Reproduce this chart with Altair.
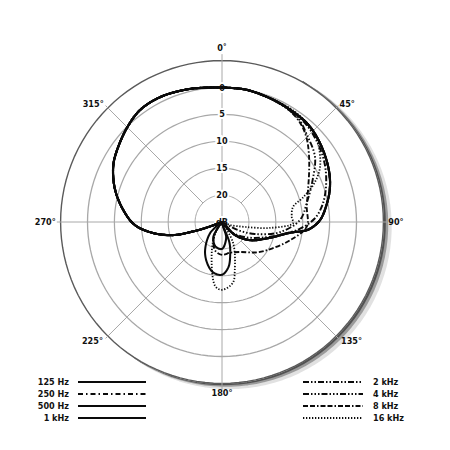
import altair as alt
import pandas as pd
import numpy as np

# ---------------- data ----------------
SERIES = ["125 Hz", "250 Hz", "500 Hz", "1 kHz", "2 kHz", "4 kHz", "8 kHz", "16 kHz"]

# attenuation in dB (0 = on-axis level, 25 = centre of the plot), angle in degrees clockwise from 0°
TOP_ANG = [0, 10, 20]
TOP_DB = [0.0, 0.0, 0.3]

LEFT_ANG = [245, 250, 252, 255, 261, 268, 277, 287, 297, 304, 315, 324, 334, 345, 352, 360]
LEFT_DB = [25.0, 22.0, 19.3, 15.6, 12.0, 8.8, 6.5, 4.2, 2.3, 1.4, 0.1, -0.8, -0.9, -0.5, -0.2, 0.0]

LOW_ANG = [28, 41, 51, 63, 72, 80, 89, 95, 99, 110, 123, 135, 150]
LOW_DB = [0.5, 0.8, 1.6, 2.8, 3.9, 5.2, 6.8, 8.9, 12.2, 16.1, 18.8, 21.6, 25.0]

ANG_125 = LOW_ANG + [180, 220]
DB_125 = LOW_DB + [25.0, 25.0]

ANG_250 = LOW_ANG + [180, 220]
DB_250 = LOW_DB + [25.0, 25.0]

ANG_500 = LOW_ANG + [165, 180, 195, 210, 228]
DB_500 = LOW_DB + [22.0, 20.0, 20.3, 21.8, 25.0]

ANG_1K = LOW_ANG + [160, 166, 172, 180, 190, 200, 211, 227, 240]
DB_1K = LOW_DB + [21.0, 18.7, 16.5, 15.2, 15.5, 16.9, 18.9, 22.0, 25.0]

ANG_2K = [30, 40, 50, 60, 70, 80, 88, 95, 102, 112, 124, 138, 150, 200, 240]
DB_2K = [0.6, 1.0, 1.9, 3.0, 4.4, 6.0, 7.8, 10.5, 13.8, 17.2, 20.0, 22.5, 25.0, 25.0, 25.0]

ANG_4K = [35.5, 45, 55, 65, 77, 88.5, 100, 110, 117, 130, 200, 240]
DB_4K = [1.0, 2.5, 3.9, 6.4, 8.8, 10.5, 14.1, 18.5, 21.7, 25.0, 25.0, 25.0]

ANG_8K = [30, 38, 45, 52, 60, 70, 80, 93, 105, 118, 131, 149, 165, 180, 194, 210, 225, 240]
DB_8K = [0.7, 1.5, 2.8, 4.5, 6.3, 8.0, 9.0, 9.2, 11.9, 14.5, 16.4, 18.5, 19.1, 18.9, 19.6, 22.0, 25.0, 25.0]

ANG_16K = [32, 43, 50.5, 60.7, 67, 73, 78, 86, 91, 97, 102, 110, 125, 140, 152, 165, 170, 180, 186, 200, 211, 230]
DB_16K = [0.4, 0.9, 1.9, 4.1, 6.3, 9.2, 11.5, 12.0, 11.8, 16.0, 20.6, 23.4, 25.0, 25.0, 20.6, 15.8, 13.5, 12.4, 13.0, 19.5, 22.8, 25.0]

RING_DB = [-5, 0, 5, 10, 15, 20]
RING_LABELS = ["0", "5", "10", "15", "20"]
ANGLE_TICKS = [0, 45, 90, 135, 180, 225, 270, 315]

# ---------------- styling / layout ----------------
K = 5.38          # pixels per dB
FLOOR = 25        # dB at the centre
FONT = "Liberation Sans Narrow, DejaVu Sans Condensed, DejaVu Sans, sans-serif"
GRID = "#a8a8a8"

DASHES = {
    "125 Hz": [1, 0],
    "250 Hz": [5, 3, 1.5, 3],
    "500 Hz": [1, 0],
    "1 kHz": [1, 0],
    "2 kHz": [6, 2, 1.5, 2, 1.5, 2],
    "4 kHz": [6, 2, 1.5, 2, 1.5, 2, 1.5, 2],
    "8 kHz": [5, 2, 5, 2, 1.5, 2],
    "16 kHz": [1.3, 1.7],
}
WIDTHS = {"125 Hz": 2.2, "250 Hz": 1.8, "500 Hz": 2.2, "1 kHz": 2.2,
          "2 kHz": 1.8, "4 kHz": 1.7, "8 kHz": 1.8, "16 kHz": 1.7}

series_data = [(ANG_125, DB_125), (ANG_250, DB_250), (ANG_500, DB_500), (ANG_1K, DB_1K),
               (ANG_2K, DB_2K), (ANG_4K, DB_4K), (ANG_8K, DB_8K), (ANG_16K, DB_16K)]

rows = []
for name, (angs, dbs) in zip(SERIES, series_data):
    fa = TOP_ANG + angs + LEFT_ANG
    fd = TOP_DB + dbs + LEFT_DB
    for i, (a, d) in enumerate(zip(fa, fd)):
        rows.append({"series": name, "i": i, "ang": a, "db": d})
curves = pd.DataFrame(rows)

ring_angles = np.arange(0, 361, 3)
rings = pd.DataFrame([{"db": lv, "ang": float(a)} for lv in RING_DB for a in ring_angles])
shadow = pd.DataFrame({"ang": np.arange(30, 216, 3).astype(float)})

spokes = pd.DataFrame({
    "ang": ANGLE_TICKS,
    "db0": [FLOOR if a % 90 == 0 else 20 for a in ANGLE_TICKS],
    "db1": [-6.2 if a in (0, 180) else (-5.7 if a % 90 == 0 else -5.6) for a in ANGLE_TICKS],
})

ring_lab = pd.DataFrame({"db": [0, 5, 10, 15, 20, FLOOR], "ang": [0] * 6,
                         "label": RING_LABELS + ["dB"]})

ang_lab = pd.DataFrame({
    "ang": ANGLE_TICKS,
    "label": ["0˚"] + [f"{a}°" for a in ANGLE_TICKS[1:]],
    "db": [-7.3, -5.9, -5.9, -6.3, -6.8, -6.3, -5.9, -6.1],
    "side": ["c", "l", "l", "l", "c", "r", "r", "r"],
})

legend = pd.DataFrame({"series": SERIES,
                       "col": [0, 0, 0, 0, 1, 1, 1, 1],
                       "row": [0, 1, 2, 3, 0, 1, 2, 3]})

# ---------------- chart ----------------
XS = alt.Scale(domain=[-214, 220], nice=False, zero=False)
YS = alt.Scale(domain=[-220, 214], nice=False, zero=False)
X = alt.X("x:Q", scale=XS, axis=None)
Y = alt.Y("y:Q", scale=YS, axis=None)


def polar(ch):
    return ch.transform_calculate(
        r=f"({FLOOR} - datum.db) * {K}"
    ).transform_calculate(
        x="datum.r * sin(datum.ang * PI / 180)",
        y="datum.r * cos(datum.ang * PI / 180)",
    )


def shadow_trail(scale_w, color, opacity):
    r_out = (FLOOR + 5) * K
    return alt.Chart(shadow).transform_calculate(
        w=f"{scale_w} * max(0, sin(PI * (datum.ang - 30) / 185))"
    ).transform_calculate(
        r=f"{r_out} + 0.6 + datum.w / 2"
    ).transform_calculate(
        x="datum.r * sin(datum.ang * PI / 180)",
        y="datum.r * cos(datum.ang * PI / 180)",
    ).mark_trail(color=color, opacity=opacity).encode(
        x=X, y=Y, order="ang:Q", size=alt.Size("w:Q", scale=None, legend=None)
    )


ring_layer = polar(alt.Chart(rings)).mark_line().encode(
    x=X, y=Y, detail="db:N", order="ang:Q",
    color=alt.Color("db:N", scale=alt.Scale(domain=RING_DB, range=["#5a5a5a"] + [GRID] * 5), legend=None),
    strokeWidth=alt.StrokeWidth("db:N", scale=alt.Scale(domain=RING_DB, range=[1.4] + [1.0] * 5), legend=None),
)

spoke_layer = alt.Chart(spokes).transform_calculate(
    r0=f"({FLOOR} - datum.db0) * {K}", r1=f"({FLOOR} - datum.db1) * {K}"
).transform_calculate(
    x="datum.r0 * sin(datum.ang * PI / 180)", y="datum.r0 * cos(datum.ang * PI / 180)",
    x2="datum.r1 * sin(datum.ang * PI / 180)", y2="datum.r1 * cos(datum.ang * PI / 180)",
).mark_rule(color=GRID, strokeWidth=1).encode(x=X, y=Y, x2="x2:Q", y2="y2:Q")

ring_halo = polar(alt.Chart(ring_lab)).mark_text(
    font=FONT, fontSize=9, fontWeight="bold", stroke="white", strokeWidth=4, color="white"
).encode(x=X, y=Y, text="label:N")
ring_text = polar(alt.Chart(ring_lab)).mark_text(
    font=FONT, fontSize=9, fontWeight="bold", color="#111"
).encode(x=X, y=Y, text="label:N")

ang_layers = []
for side, align in (("c", "center"), ("l", "left"), ("r", "right")):
    ang_layers.append(
        polar(alt.Chart(ang_lab).transform_filter(f"datum.side == '{side}'")).mark_text(
            font=FONT, fontSize=9, fontWeight="bold", color="#111", align=align, baseline="middle"
        ).encode(x=X, y=Y, text="label:N")
    )

dash_scale = alt.Scale(domain=SERIES, range=[DASHES[s] for s in SERIES])
width_scale = alt.Scale(domain=SERIES, range=[WIDTHS[s] for s in SERIES])

curve_layers = []
for group in (["16 kHz", "8 kHz", "4 kHz", "2 kHz", "250 Hz"], ["125 Hz", "500 Hz", "1 kHz"]):
    sub = curves[curves["series"].isin(group)]
    curve_layers.append(
        polar(alt.Chart(sub)).mark_line(color="#0a0a0a", interpolate="catmull-rom",
                                         strokeCap="butt", strokeJoin="round").encode(
            x=X, y=Y, order="i:Q", detail="series:N",
            strokeDash=alt.StrokeDash("series:N", scale=dash_scale, legend=None),
            strokeWidth=alt.StrokeWidth("series:N", scale=width_scale, legend=None),
        )
    )

LEG_Y0, LEG_DY = -160, 12
leg_lines = alt.Chart(legend).transform_calculate(
    y=f"{LEG_Y0} - datum.row * {LEG_DY}",
    x="datum.col == 0 ? -144 : 81",
    x2="datum.col == 0 ? -76 : 141",
).mark_rule(color="#0a0a0a", strokeCap="butt").encode(
    x=X, y=Y, x2="x2:Q",
    strokeDash=alt.StrokeDash("series:N", scale=dash_scale, legend=None),
    strokeWidth=alt.StrokeWidth("series:N", scale=width_scale, legend=None),
)
leg_text_l = alt.Chart(legend).transform_filter("datum.col == 0").transform_calculate(
    y=f"{LEG_Y0} - datum.row * {LEG_DY}", x="-153"
).mark_text(font=FONT, fontSize=9, fontWeight="bold", color="#111", align="right", baseline="middle").encode(
    x=X, y=Y, text="series:N")
leg_text_r = alt.Chart(legend).transform_filter("datum.col == 1").transform_calculate(
    y=f"{LEG_Y0} - datum.row * {LEG_DY}", x="151"
).mark_text(font=FONT, fontSize=9, fontWeight="bold", color="#111", align="left", baseline="middle").encode(
    x=X, y=Y, text="series:N")

chart = alt.layer(
    shadow_trail(9, "#888888", 0.25), shadow_trail(5, "#444444", 0.45), shadow_trail(2.2, "#222222", 0.6),
    ring_layer, spoke_layer, ring_halo,
    *curve_layers,
    ring_text, *ang_layers,
    leg_lines, leg_text_l, leg_text_r,
).resolve_scale(
    color="independent", strokeWidth="independent", strokeDash="independent"
).properties(
    width=434, height=434, padding=0
).configure_view(strokeWidth=0)

chart.save("out.html", embed_options={"renderer": "svg", "actions": False})
